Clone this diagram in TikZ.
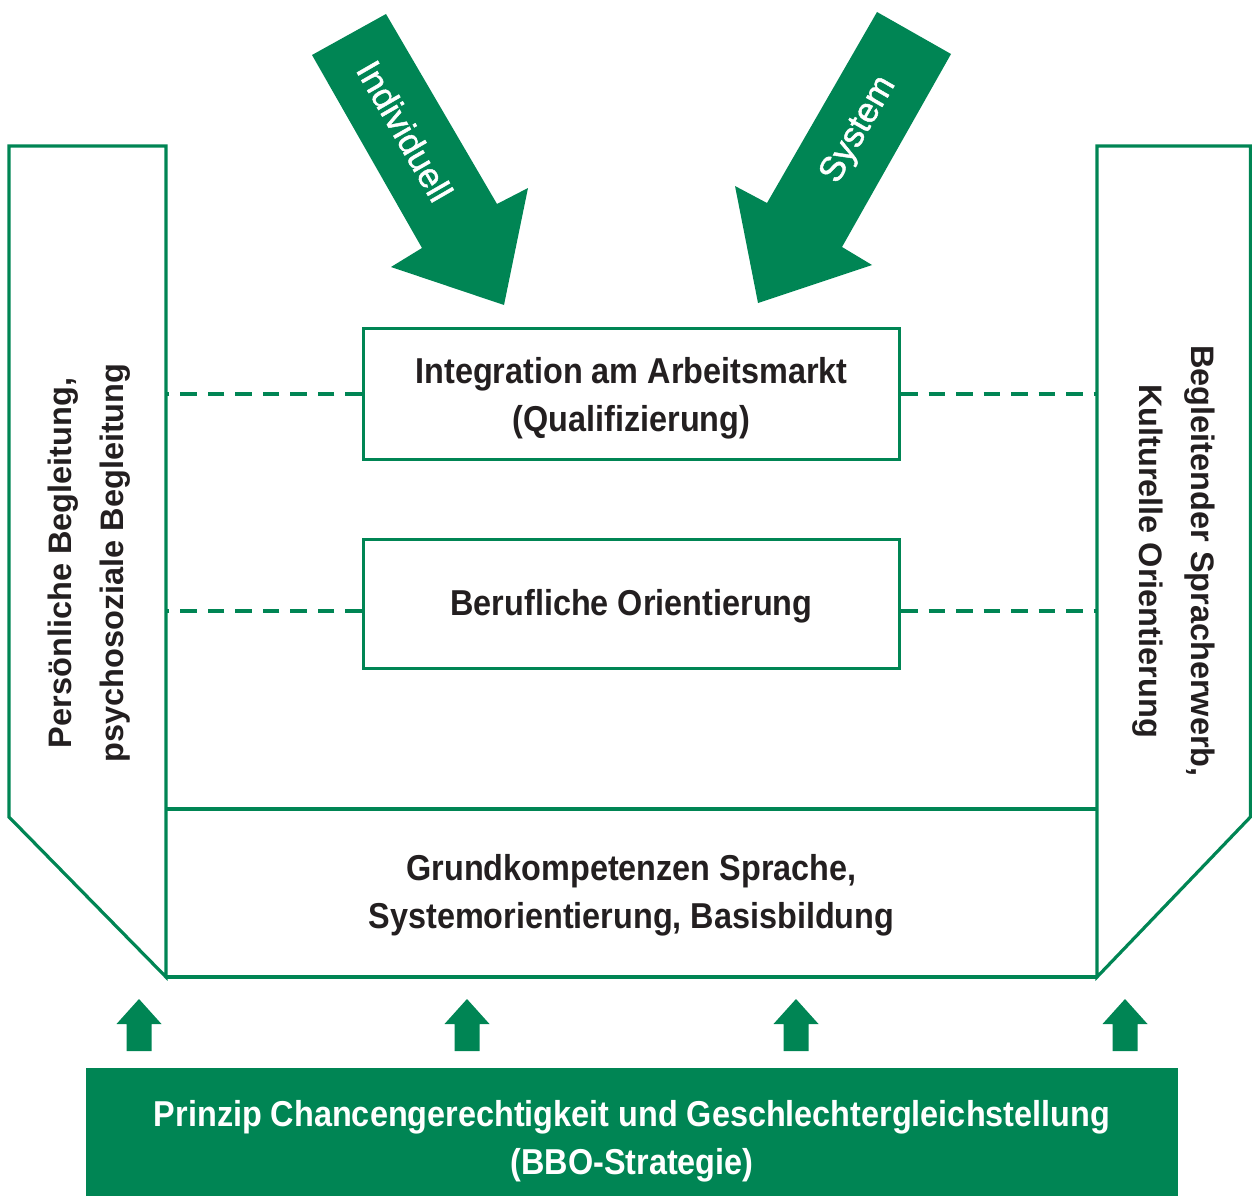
\documentclass[tikz,border=0pt]{standalone}
\usepackage{fontspec}
\setmainfont{Liberation Sans}
\newfontfamily\condfont{Liberation Sans}[FakeStretch=0.9]
\newfontfamily\medfont{Liberation Sans}[FakeBold=1.3]
\definecolor{bgreen}{RGB}{0,133,84}
\definecolor{txt}{RGB}{35,31,32}
\begin{document}
\begin{tikzpicture}[x=1pt,y=-1pt,
  frame/.style={draw=bgreen,line width=3.2pt,line join=miter},
  stagebox/.style={draw=bgreen,line width=3.2pt,fill=white,minimum width=536pt,inner sep=0pt},
  link/.style={draw=bgreen,line width=4.5pt,dash pattern=on 16.7pt off 10.8pt},
  bigarrow/.style={fill=bgreen},
  uparrow/.style={fill=bgreen},
  maintext/.style={inner sep=0pt,text=txt,align=center,font=\condfont\bfseries\fontsize{36}{48}\selectfont},
  sidetext/.style={inner sep=0pt,text=txt,align=center,font=\bfseries\fontsize{32.5}{52}\selectfont},
  arrowtext/.style={inner sep=0pt,text=white,font=\medfont\fontsize{35}{40}\selectfont}]
\useasboundingbox (0,0) rectangle (1252,1196);

% side columns
\draw[frame] (166,146) -- (9,146) -- (9,817) -- (166,977) -- cycle;
\draw[frame] (1097,146) -- (1250.4,146) -- (1250.4,817) -- (1097,977) -- cycle;
% base frame
\draw[frame] (166,809) -- (1097,809);
\draw[frame] (166,977) -- (1097,977);

% connector end points on the columns
\coordinate (L1) at (166,394);
\coordinate (R1) at (1097,394);
\coordinate (L2) at (166,611);
\coordinate (R2) at (1097,611);

% stage boxes
\node[stagebox,minimum height=131pt] (integ) at (631.5,394) {};
\node[stagebox,minimum height=129pt] (beruf) at (631.5,604) {};
\node[maintext] (integtext) at (631.5,398.5) {Integration am Arbeitsmarkt\\(Qualifizierung)};
\node[maintext] (beruftext) at (631.5,606.5) {Berufliche Orientierung};

\draw[link] (integ.west) -- (L1);
\draw[link] (integ.east) -- (R1);
\draw[link] (beruf.west |- L2) -- (L2);
\draw[link] (beruf.east |- R2) -- (R2);

% base text
\node[maintext] (grund) at (631.5,895) {Grundkompetenzen Sprache,\\Systemorientierung, Basisbildung};

% side texts
\node[sidetext,rotate=90] (links) at (89,563) {Persönliche Begleitung,\\psychosoziale Begleitung};
\node[sidetext,rotate=-90] (rechts) at (1174,561) {Begleitender Spracherwerb,\\Kulturelle Orientierung};

% big arrows
\fill[bigarrow] (312,55) -- (386,14) -- (497,204) -- (528,188) -- (504,305) -- (391,267) -- (422,248) -- cycle;
\fill[bigarrow] (877,12) -- (951,54) -- (842,247) -- (872,265) -- (758,303) -- (735,186) -- (767,203) -- cycle;
\node[arrowtext,rotate=-60] (indiv) at (405,131) {Individuell};
\node[arrowtext,rotate=60] (sys) at (859,130) {System};

% small up arrows
\foreach \cx in {139,467,796,1125}{
  \fill[uparrow] (\cx,999) -- (\cx+22.5,1024) -- (\cx+12.5,1024) -- (\cx+12.5,1051)
    -- (\cx-12.5,1051) -- (\cx-12.5,1024) -- (\cx-22.5,1024) -- cycle;
}

% principle bar
\fill[bgreen] (86,1068) rectangle (1178,1196);
\node[maintext,text=white] (bbo) at (632,1141) {Prinzip Chancengerechtigkeit und Geschlechtergleichstellung\\(BBO-Strategie)};
\end{tikzpicture}
\end{document}
